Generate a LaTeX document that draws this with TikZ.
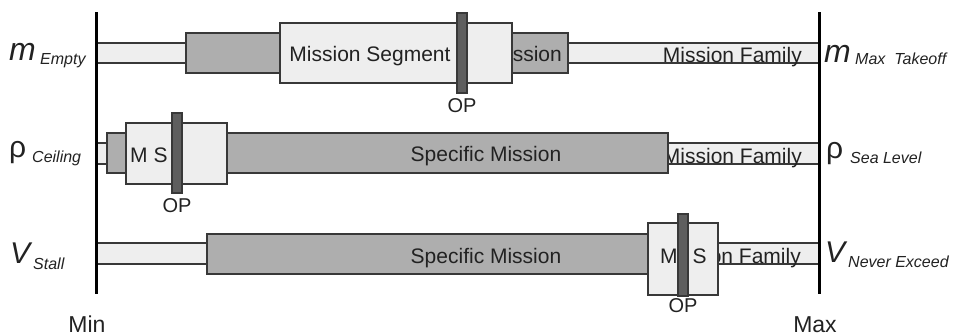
\documentclass[tikz,border=0pt]{standalone}
\usepackage{fontspec}
\setmainfont{Liberation Sans}
\definecolor{lightfill}{HTML}{EEEEEE}
\definecolor{darkfill}{HTML}{AEAEAE}
\definecolor{opfill}{HTML}{5E5E5E}
\definecolor{edge}{HTML}{383838}
\definecolor{ink}{HTML}{222222}
\newcommand{\fsz}[1]{\fontsize{#1}{#1}\selectfont}
\begin{document}
\begin{tikzpicture}[x=1pt,y=-1pt,
  bar/.style={draw=edge, line width=1.4pt, anchor=north west, inner sep=0pt, outer sep=0pt},
  fambar/.style={bar, fill=lightfill},
  specbar/.style={bar, fill=darkfill},
  segbox/.style={bar, fill=lightfill},
  opbar/.style={bar, fill=opfill},
  txt/.style={inner sep=0pt, text=ink, font=\fsz{21}},
  optxt/.style={inner sep=0pt, text=ink, font=\fsz{20}, anchor=base},
  axislbl/.style={inner sep=0pt, text=ink, font=\fsz{23}, anchor=base},
  biglbl/.style={inner sep=0pt, text=ink, anchor=base west},
  sublbl/.style={inner sep=0pt, text=ink, font=\fsz{16}\itshape, anchor=base west},
  axisline/.style={line width=3pt, black}]
\useasboundingbox (0,0) rectangle (954,335);

% ---------- Row 1: mass ----------
\node[fambar, minimum width=723pt, minimum height=20pt] (fam1) at (96,43) {};
\node[txt, anchor=base east] (famt1) at (802,62) {Mission Family};
\node[specbar, minimum width=382pt, minimum height=40pt] (spec1) at (186,33) {};
\node[txt, anchor=base east] (spect1) at (562,61) {ssion};
\node[segbox, minimum width=232pt, minimum height=60pt] (seg1) at (280,23) {};
\node[txt, anchor=base] (segt1) at (370,61) {Mission Segment};
\node[opbar, minimum width=10pt, minimum height=80pt] (op1) at (457,13) {};
\node[optxt] (opt1) at (462,112) {OP};

% ---------- Row 2: density ----------
\node[fambar, minimum width=723pt, minimum height=21pt] (fam2) at (96,143) {};
\node[txt, anchor=base east] (famt2) at (802,163) {Mission Family};
\node[specbar, minimum width=561pt, minimum height=40pt] (spec2) at (107,133) {};
\node[txt, anchor=base] (spect2) at (486,161) {Specific Mission};
\node[segbox, minimum width=101pt, minimum height=61pt] (seg2) at (126,123) {};
\node[txt, anchor=base west] (segt2) at (130,162) {M S};
\node[opbar, minimum width=10pt, minimum height=80pt] (op2) at (172,113) {};
\node[optxt] (opt2) at (177,212) {OP};

% ---------- Row 3: velocity ----------
\node[fambar, minimum width=723pt, minimum height=21pt] (fam3) at (96,243) {};
\node[txt, anchor=base east] (famt3) at (801,263) {on Family};
\node[specbar, minimum width=441pt, minimum height=40pt] (spec3) at (207,234) {};
\node[txt, anchor=base] (spect3) at (486,263) {Specific Mission};
\node[segbox, minimum width=70pt, minimum height=72pt] (seg3) at (648,223) {};
\node[txt, anchor=base west] (segt3) at (660,263) {M\hspace{15pt}S};
\node[opbar, minimum width=10pt, minimum height=82pt] (op3) at (678,214) {};
\node[optxt] (opt3) at (683,312) {OP};

% ---------- Axes ----------
\coordinate (minTop) at (96,12);
\coordinate (minBot) at (96,294);
\coordinate (maxTop) at (819,12);
\coordinate (maxBot) at (819,294);
\draw[axisline] (minTop) -- (minBot);
\draw[axisline] (maxTop) -- (maxBot);
\node[axislbl] (minlbl) at (87,332) {Min};
\node[axislbl] (maxlbl) at (815,332) {Max};

% ---------- Left labels ----------
\node[biglbl, font=\fsz{32}\itshape] (mL) at (9,60) {m};
\node[sublbl] (mLs) at (40,64) {Empty};
\node[biglbl, font=\fsz{30}] (rL) at (9,157) {ρ};
\node[sublbl] (rLs) at (32,162) {Ceiling};
\node[biglbl, font=\fsz{30}\itshape] (vL) at (10,263) {V};
\node[sublbl] (vLs) at (33,269) {Stall};

% ---------- Right labels ----------
\node[biglbl, font=\fsz{32}\itshape] (mR) at (824,62) {m};
\node[sublbl] (mRs) at (855,64) {Max\ \ Takeoff};
\node[biglbl, font=\fsz{30}] (rR) at (826,158) {ρ};
\node[sublbl] (rRs) at (850,163) {Sea Level};
\node[biglbl, font=\fsz{30}\itshape] (vR) at (825,262) {V};
\node[sublbl] (vRs) at (848,267) {Never Exceed};
\end{tikzpicture}
\end{document}
